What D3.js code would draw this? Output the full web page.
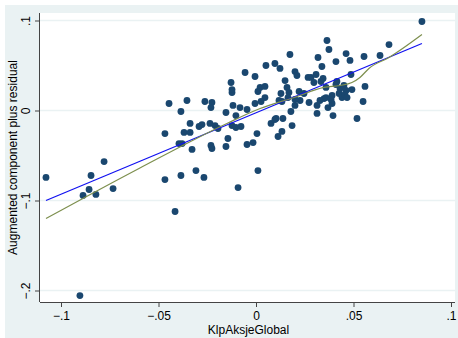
<!DOCTYPE html>
<html>
<head>
<meta charset="utf-8">
<script src="https://cdn.jsdelivr.net/npm/d3@7"></script>
<style>
  html, body { margin: 0; padding: 0; background: #fff; }
  svg { display: block; font-family: "Liberation Sans", Arial, sans-serif; }
</style>
</head>
<body>
<svg id="chart" width="458" height="338"></svg>
<script>
// residual points: x = KlpAksjeGlobal, y = component + residual
const pointsX = [
  -0.1077, -0.0779, -0.0846, -0.0887, -0.0856, -0.0821, -0.0733, -0.0903,
  -0.0467, -0.0385, -0.0308, -0.0267, -0.0415, -0.0092, 0.0010,
  -0.0446, -0.0354, -0.0385, -0.0262, -0.0226, -0.0231, -0.0154, -0.0338,
  -0.0467, -0.0369, -0.0338, -0.0292, -0.0277, -0.0236, -0.0210, -0.0195,
  -0.0395, -0.0379, -0.0328, -0.0231, -0.0226, -0.0154, -0.0144, -0.0103,
  -0.0123, -0.0103, -0.0128, -0.0123, -0.0118, -0.0082, -0.0046, -0.0077,
  -0.0046, -0.0015, 0.0005, -0.0056, -0.0005, 0.0051, 0.0097, 0.0123,
  0.0174, 0.0200, 0.0210, 0.0149, 0.0021, 0.0046, 0.0010, 0.0046,
  0.0026, -0.0005, 0.0128, 0.0159, 0.0169, 0.0221, 0.0246, 0.0272,
  0.0282, 0.0308, 0.0318, 0.0364, 0.0374, 0.0297, 0.0333, 0.0344,
  0.0349, 0.0369, 0.0359, 0.0226, 0.0200, 0.0179, 0.0133, 0.0118,
  0.0103, 0.0138, 0.0077, 0.0097, 0.0185, 0.0133, 0.0113, 0.0313,
  0.0164, 0.0200, 0.0313, 0.0328, 0.0359, 0.0390, 0.0395, 0.0518,
  0.0549, 0.0559, 0.0487, 0.0410, 0.0482, 0.0462, 0.0554, 0.0636,
  0.0682, 0.0851, 0.0338, 0.0267, 0.0415, 0.0431, 0.0451, 0.0462,
  0.0492, 0.0426, 0.0441, 0.0456, 0.0390, 0.0385, 0.0410, 0.0467,
  -0.0123
];
const pointsY = [
  -0.0744, -0.0567, -0.0722, -0.0944, -0.0878, -0.0933, -0.0867, -0.2056,
  -0.0767, -0.0722, -0.0667, -0.0744, -0.1122, -0.0856, -0.0667,
  0.0078, 0.0111, -0.0011, 0.0100, 0.0089, 0.0033, -0.0022, -0.0144,
  -0.0256, -0.0244, -0.0244, -0.0178, -0.0156, -0.0144, -0.0167, -0.0200,
  -0.0367, -0.0367, -0.0433, -0.0389, -0.0422, -0.0400, -0.0311, -0.0056,
  -0.0167, -0.0189, 0.0311, 0.0200, 0.0056, 0.0033, 0.0011, -0.0178,
  -0.0378, -0.0356, -0.0256, 0.0422, 0.0378, 0.0500, 0.0522, 0.0467,
  0.0622, 0.0433, 0.0389, 0.0333, 0.0256, 0.0267, 0.0211, 0.0144,
  0.0100, 0.0078, 0.0189, 0.0256, 0.0200, 0.0211, 0.0189, 0.0089,
  0.0367, 0.0400, 0.0589, 0.0778, 0.0678, 0.0311, 0.0322, 0.0356,
  0.0133, 0.0033, 0.0256, 0.0111, 0.0056, -0.0011, 0.0100, 0.0111,
  -0.0089, -0.0089, -0.0144, -0.0100, -0.0167, -0.0233, -0.0289, -0.0033,
  0.0144, 0.0122, 0.0056, 0.0111, 0.0144, 0.0078, -0.0056, -0.0089,
  0.0100, 0.0267, 0.0400, 0.0544, 0.0556, 0.0633, 0.0600, 0.0611,
  0.0733, 0.0989, 0.0489, 0.0367, 0.0322, 0.0244, 0.0278, 0.0222,
  0.0233, 0.0189, 0.0144, 0.0178, 0.0167, 0.0122, 0.0289, 0.0144,
  0.0233
];

// linear fit (blue) end points
const fitX = [-0.1077, 0.0851];
const fitY = [-0.1000, 0.0744];

// lowess smooth (olive)
const lowessX = [-0.1077, -0.0600, -0.0149, 0.0021, 0.0195, 0.0349, 0.0431, 0.0492, 0.0533, 0.0579, 0.0682, 0.0851];
const lowessY = [-0.1200, -0.0644, -0.0144, 0.0022, 0.0144, 0.0256, 0.0278, 0.0311, 0.0367, 0.0467, 0.0589, 0.0844];

const xTicks = [-0.1, -0.05, 0, 0.05, 0.1];
const yTicks = [-0.2, -0.1, 0, 0.1];
const fmt = v => v === 0 ? "0" : d3.format(".2~f")(v).replace("0.", ".");

const svg = d3.select("#chart");
const plot = { left: 40, right: 455, top: 13, bottom: 302 };

const x = d3.scaleLinear().domain([-0.1, 0.1]).range([61, 451]);
const y = d3.scaleLinear().domain([-0.2, 0.1]).range([290.5, 20.5]);

// graph region + plot region
svg.append("rect").attr("x", 5).attr("y", 5).attr("width", 453).attr("height", 333)
  .attr("fill", "#eaf2f3");
svg.append("rect").attr("x", plot.left).attr("y", plot.top)
  .attr("width", plot.right - plot.left).attr("height", plot.bottom - plot.top)
  .attr("fill", "#ffffff");

// horizontal grid
svg.append("g").selectAll("line").data(yTicks).join("line")
  .attr("x1", plot.left).attr("x2", plot.right)
  .attr("y1", d => y(d)).attr("y2", d => y(d))
  .attr("stroke", "#eaf2f3").attr("stroke-width", 1.5);

// points
svg.append("g").selectAll("circle").data(pointsX).join("circle")
  .attr("cx", d => x(d))
  .attr("cy", (d, i) => y(pointsY[i]))
  .attr("r", 3.4)
  .attr("fill", "#1a476f");

// fit lines
const line = d3.line().x(d => x(d[0])).y(d => y(d[1]));
svg.append("path").datum(fitX.map((v, i) => [v, fitY[i]]))
  .attr("d", line).attr("fill", "none")
  .attr("stroke", "#1010f0").attr("stroke-width", 1.2);
svg.append("path").datum(lowessX.map((v, i) => [v, lowessY[i]]))
  .attr("d", d3.line().curve(d3.curveMonotoneX).x(d => x(d[0])).y(d => y(d[1])))
  .attr("fill", "none")
  .attr("stroke", "#7d8f4e").attr("stroke-width", 1.2);

// axes
const xAxis = svg.append("g").attr("transform", `translate(0,${plot.bottom})`)
  .call(d3.axisBottom(x).tickValues(xTicks).tickFormat(fmt).tickSize(5).tickPadding(4));
xAxis.select(".domain").attr("d", `M${plot.left},0.5H${plot.right}`);
const yAxis = svg.append("g").attr("transform", `translate(${plot.left},0)`)
  .call(d3.axisLeft(y).tickValues(yTicks).tickFormat(fmt).tickSize(5));
yAxis.select(".domain").attr("d", `M-0.5,${plot.top}V${plot.bottom}`);

svg.selectAll(".domain").attr("stroke", "#444").attr("stroke-width", 1);
svg.selectAll(".tick line").attr("stroke", "#444");
xAxis.selectAll("text").attr("font-size", 12).attr("fill", "#000")
  .attr("font-family", "Liberation Sans, Arial, sans-serif");
yAxis.selectAll("text")
  .attr("font-size", 12).attr("fill", "#000")
  .attr("font-family", "Liberation Sans, Arial, sans-serif")
  .attr("text-anchor", "middle")
  .attr("x", null).attr("dy", null)
  .attr("transform", "translate(-10,0) rotate(-90)")
  .attr("dominant-baseline", "auto");

// titles
svg.append("text").attr("x", (plot.left + plot.right) / 2 + 1).attr("y", 334)
  .attr("text-anchor", "middle").attr("font-size", 12).text("KlpAksjeGlobal");
svg.append("text")
  .attr("transform", `translate(17,${(plot.top + plot.bottom) / 2}) rotate(-90)`)
  .attr("text-anchor", "middle").attr("font-size", 12)
  .text("Augmented component plus residual");
</script>
</body>
</html>
